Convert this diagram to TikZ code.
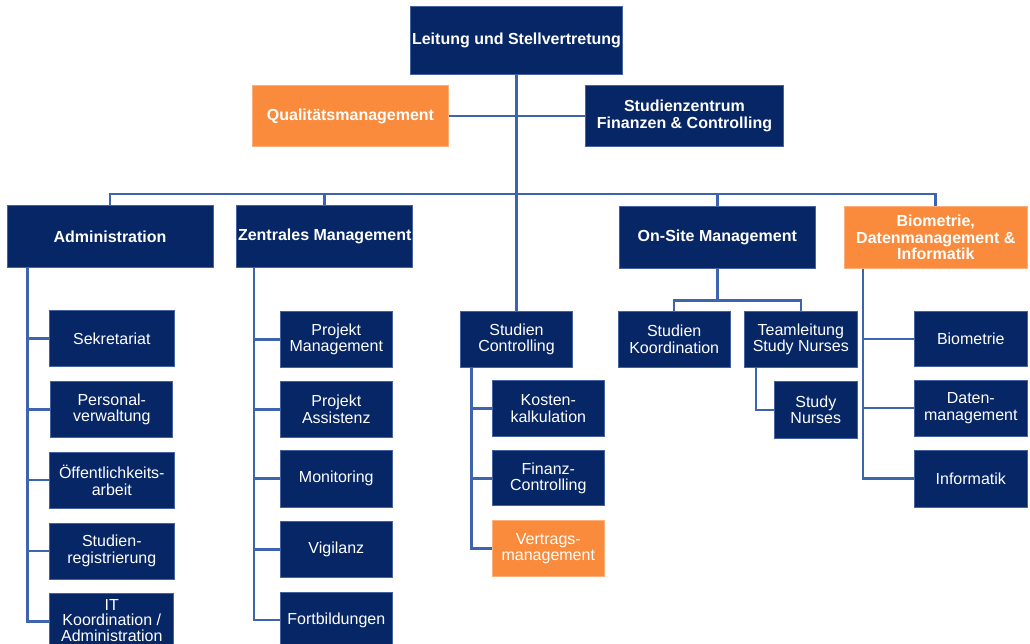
\documentclass[tikz,border=0pt]{standalone}
\usepackage{fontspec}
\setmainfont{Liberation Sans}
\usepackage{tikz}
\usetikzlibrary{positioning}
\definecolor{navy}{RGB}{7,38,102}
\definecolor{navyline}{RGB}{68,98,160}
\definecolor{orga}{RGB}{250,138,60}
\definecolor{orgaline}{RGB}{252,175,120}
\definecolor{linkblue}{RGB}{62,100,175}
\tikzset{
  box/.style={draw=navyline, fill=navy, text=white, align=center, inner sep=0pt,
    line width=0.8pt, font=\fontsize{16}{16.5}\selectfont},
  head/.style={box, font=\fontsize{16}{16.5}\selectfont\bfseries},
  hot/.style={fill=orga, draw=orgaline},
  wh/.style 2 args={minimum width=#1pt, minimum height=#2pt},
  link/.style={draw=linkblue, line width=2.8pt},
  sub/.style={draw=linkblue, line width=2.5pt}
}

\begin{document}
\begin{tikzpicture}[x=1pt,y=-1pt]
	\useasboundingbox (0,0) rectangle (1030,643);
	% top level
	\node[head, wh={212}{68}] (lead) at (516.5,40) {Leitung und Stellvertretung};
	\node[head, hot, wh={196}{61}] (qm) at (350.5,116) {Qualitätsmanagement};
	\node[head, wh={198}{61}] (sz) at (684.5,116) {Studienzentrum\\Finanzen \& Controlling};
	
	% departments
	\node[head, wh={206}{62}] (adm) at (110,236.5) {Administration};
	\node[head, wh={176}{62}] (zm) at (324.7,236.5) {Zentrales Management};
	\node[head, wh={196}{62}] (osm) at (717.3,237.5) {On-Site Management};
	\node[head, hot, wh={183}{62}] (bdi) at (935.8,237.5) {Biometrie,\\Datenmanagement \&\\Informatik};
	
	% Administration
	\node[box, wh={125}{55.5}] (sek) at (111.8,338.5) {Sekretariat};
	\node[box, wh={122}{56}, below=14.3pt of sek] (pv) {Personal-\\verwaltung};
	\node[box, wh={125}{55.5}, below=14.3pt of pv] (oea) {Öffentlichkeits-\\arbeit};
	\node[box, wh={125}{56}, below=14.3pt of oea] (sr) {Studien-\\registrierung};
	\node[box, wh={124}{56}, below=13.5pt of sr, font=\fontsize{16}{15.8}\selectfont,
		text depth=2pt] (itk) {IT\\Koordination /\\Administration};
	
	% Zentrales Management
	\node[box, wh={112}{55.6}] (pm) at (336.3,339.5) {Projekt\\Management};
	\node[box, wh={112}{56}, below=13.4pt of pm] (pa) {Projekt\\Assistenz};
	\node[box, wh={112}{56.6}, below=12pt of pa] (mon) {Monitoring};
	\node[box, wh={112}{56.6}, below=13.4pt of mon] (vig) {Vigilanz};
	\node[box, wh={112}{56.6}, below=13.4pt of vig] (fb) {Fortbildungen};
	
	% Studien Controlling
	\node[box, wh={111.6}{55.6}] (sc) at (516.5,339.5) {Studien\\Controlling};
	\node[box, wh={112}{55.3}] (kk) at (548.3,408.4) {Kosten-\\kalkulation};
	\node[box, wh={112}{55}, below=14pt of kk] (fc) {Finanz-\\Controlling};
	\node[box, hot, wh={112}{56.3}, below=13.7pt of fc] (vm) {Vertrags-\\management};
	
	% On-Site
	\node[box, wh={111.7}{55.6}] (sk) at (674.2,339.5) {Studien\\Koordination};
	\node[box, wh={113}{55.6}] (tl) at (800.8,339.5) {Teamleitung\\Study Nurses};
	\node[box, wh={83}{56.3}] (sn) at (815.8,409.8) {Study\\Nurses};
	
	% Biometrie
	\node[box, wh={113}{55}] (bio) at (970.8,339.2) {Biometrie};
	\node[box, wh={113}{56}, below=12.6pt of bio] (dm) {Daten-\\management};
	\node[box, wh={113}{56.6}, below=13.4pt of dm] (inf) {Informatik};
	
	% connectors
	\coordinate (bus) at (0,194);
	\coordinate (onbus) at (0,300.5);
	\draw[link] (sc.north) -- (sc.north |- lead.south);
	\draw[link] (qm.east) -- (sz.west);
	\draw[link] (adm.north) |- (bus -| bdi.north) -- (bdi.north);
	\draw[link] (zm.north) -- (zm.north |- bus);
	\draw[link] (osm.north) -- (osm.north |- bus);
	
	\foreach \kid in {sek,pv,oea,sr,itk}
		\draw[sub] ([xshift=21pt]adm.south west) |- (\kid.west);
	\foreach \kid in {pm,pa,mon,vig,fb}
		\draw[sub] ([xshift=17.8pt]zm.south west) |- (\kid.west);
	\foreach \kid in {kk,fc,vm}
		\draw[sub] ([xshift=11.3pt]sc.south west) |- (\kid.west);
	\foreach \kid in {bio,dm,inf}
		\draw[sub] ([xshift=19pt]bdi.south west) |- (\kid.west);
	\draw[sub] ([xshift=12pt]tl.south west) |- (sn.west);
	\draw[sub] (osm.south) -- (osm.south |- onbus);
	\draw[sub] (sk.north) |- (onbus -| tl.north) -- (tl.north);
\end{tikzpicture}
\end{document}
